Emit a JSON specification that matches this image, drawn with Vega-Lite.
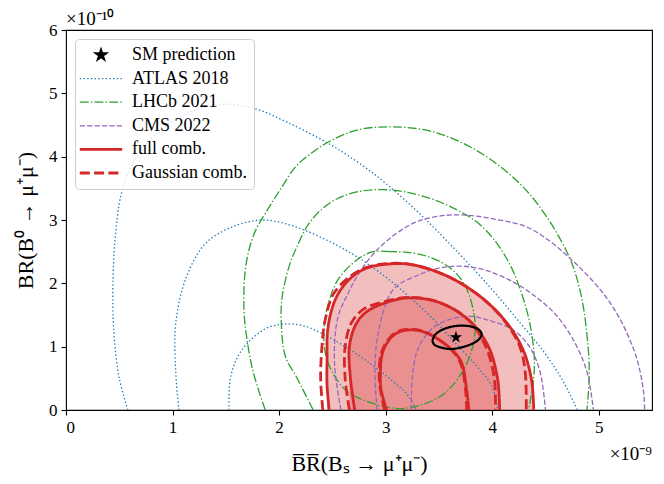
{
  "$schema": "https://vega.github.io/schema/vega-lite/v6.json",
  "width": 586,
  "height": 380,
  "autosize": {"type": "none"},
  "padding": {"left": 66, "top": 30, "right": 12, "bottom": 74},
  "background": "white",
  "config": {
    "view": {"stroke": "black", "strokeWidth": 1.1},
    "font": "Liberation Serif",
    "axis": {
      "grid": false, "domain": false, "tickColor": "black", "tickSize": 5, "tickWidth": 1.1,
      "labelFont": "Liberation Serif", "labelFontSize": 17, "labelColor": "black", "labelPadding": 4,
      "titleFont": "Liberation Serif", "titleFontSize": 22, "titleFontWeight": "normal", "titleColor": "black"
    },
    "legend": {"orient": "none", "legendX": 9, "legendY": 9, "fillColor": "rgba(255,255,255,0.8)", "strokeColor": "#cccccc", "cornerRadius": 4, "padding": 7, "labelFont": "Liberation Serif", "labelFontSize": 18, "labelColor": "black", "symbolType": "stroke", "symbolSize": 1800, "symbolOffset": 10, "rowPadding": 5.6, "labelOffset": 22, "labelLimit": 300}
  },
  "title": {"text": "×10⁻¹⁰", "anchor": "start", "frame": "group", "fontSize": 19, "fontWeight": "normal", "font": "Liberation Serif", "offset": -8, "color": "black"},
  "datasets": {
    "lines": [
      {"s":"ATLAS 2018","c":"e-a3","i":0,"x":0.58,"y":0},
      {"s":"ATLAS 2018","c":"e-a3","i":1,"x":0.5,"y":0.5},
      {"s":"ATLAS 2018","c":"e-a3","i":2,"x":0.45,"y":1.2},
      {"s":"ATLAS 2018","c":"e-a3","i":3,"x":0.44,"y":1.9},
      {"s":"ATLAS 2018","c":"e-a3","i":4,"x":0.46,"y":2.68},
      {"s":"ATLAS 2018","c":"e-a3","i":5,"x":0.52,"y":3.42},
      {"s":"ATLAS 2018","c":"e-a3","i":6,"x":0.63,"y":3.9},
      {"s":"ATLAS 2018","c":"e-a3","i":7,"x":0.82,"y":4.32},
      {"s":"ATLAS 2018","c":"e-a3","i":8,"x":1.07,"y":4.63},
      {"s":"ATLAS 2018","c":"e-a3","i":9,"x":1.3,"y":4.78},
      {"s":"ATLAS 2018","c":"e-a3","i":10,"x":1.5,"y":4.83},
      {"s":"ATLAS 2018","c":"e-a3","i":11,"x":1.79,"y":4.75},
      {"s":"ATLAS 2018","c":"e-a3","i":12,"x":2.08,"y":4.54},
      {"s":"ATLAS 2018","c":"e-a3","i":13,"x":2.45,"y":4.22},
      {"s":"ATLAS 2018","c":"e-a3","i":14,"x":2.75,"y":3.9},
      {"s":"ATLAS 2018","c":"e-a3","i":15,"x":3.0,"y":3.58},
      {"s":"ATLAS 2018","c":"e-a3","i":16,"x":3.35,"y":3.05},
      {"s":"ATLAS 2018","c":"e-a3","i":17,"x":3.7,"y":2.45},
      {"s":"ATLAS 2018","c":"e-a3","i":18,"x":4.0,"y":1.9},
      {"s":"ATLAS 2018","c":"e-a3","i":19,"x":4.25,"y":1.4},
      {"s":"ATLAS 2018","c":"e-a3","i":20,"x":4.47,"y":0.95},
      {"s":"ATLAS 2018","c":"e-a3","i":21,"x":4.65,"y":0.5},
      {"s":"ATLAS 2018","c":"e-a3","i":22,"x":4.8,"y":0},

      {"s":"ATLAS 2018","c":"e-a2","i":0,"x":1.06,"y":0},
      {"s":"ATLAS 2018","c":"e-a2","i":1,"x":1.03,"y":0.6},
      {"s":"ATLAS 2018","c":"e-a2","i":2,"x":1.03,"y":1.37},
      {"s":"ATLAS 2018","c":"e-a2","i":3,"x":1.13,"y":2.1},
      {"s":"ATLAS 2018","c":"e-a2","i":4,"x":1.31,"y":2.63},
      {"s":"ATLAS 2018","c":"e-a2","i":5,"x":1.56,"y":2.89},
      {"s":"ATLAS 2018","c":"e-a2","i":6,"x":1.85,"y":3.0},
      {"s":"ATLAS 2018","c":"e-a2","i":7,"x":2.14,"y":2.9},
      {"s":"ATLAS 2018","c":"e-a2","i":8,"x":2.45,"y":2.68},
      {"s":"ATLAS 2018","c":"e-a2","i":9,"x":2.72,"y":2.43},
      {"s":"ATLAS 2018","c":"e-a2","i":10,"x":3.0,"y":2.1},
      {"s":"ATLAS 2018","c":"e-a2","i":11,"x":3.2,"y":1.82},
      {"s":"ATLAS 2018","c":"e-a2","i":12,"x":3.45,"y":1.43},
      {"s":"ATLAS 2018","c":"e-a2","i":13,"x":3.63,"y":1.1},
      {"s":"ATLAS 2018","c":"e-a2","i":14,"x":3.85,"y":0.7},
      {"s":"ATLAS 2018","c":"e-a2","i":15,"x":4.0,"y":0.37},
      {"s":"ATLAS 2018","c":"e-a2","i":16,"x":4.05,"y":0},

      {"s":"ATLAS 2018","c":"e-a1","i":0,"x":1.53,"y":0},
      {"s":"ATLAS 2018","c":"e-a1","i":1,"x":1.54,"y":0.47},
      {"s":"ATLAS 2018","c":"e-a1","i":2,"x":1.6,"y":0.8},
      {"s":"ATLAS 2018","c":"e-a1","i":3,"x":1.7,"y":1.05},
      {"s":"ATLAS 2018","c":"e-a1","i":4,"x":1.88,"y":1.29},
      {"s":"ATLAS 2018","c":"e-a1","i":5,"x":2.07,"y":1.36},
      {"s":"ATLAS 2018","c":"e-a1","i":6,"x":2.25,"y":1.32},
      {"s":"ATLAS 2018","c":"e-a1","i":7,"x":2.41,"y":1.2},
      {"s":"ATLAS 2018","c":"e-a1","i":8,"x":2.6,"y":1.02},
      {"s":"ATLAS 2018","c":"e-a1","i":9,"x":2.8,"y":0.8},
      {"s":"ATLAS 2018","c":"e-a1","i":10,"x":3.07,"y":0.45},
      {"s":"ATLAS 2018","c":"e-a1","i":11,"x":3.2,"y":0.25},
      {"s":"ATLAS 2018","c":"e-a1","i":12,"x":3.29,"y":0},

      {"s":"LHCb 2021","c":"e-l3","i":0,"x":1.87,"y":0},
      {"s":"LHCb 2021","c":"e-l3","i":1,"x":1.76,"y":0.58},
      {"s":"LHCb 2021","c":"e-l3","i":2,"x":1.7,"y":1.1},
      {"s":"LHCb 2021","c":"e-l3","i":3,"x":1.67,"y":1.6},
      {"s":"LHCb 2021","c":"e-l3","i":4,"x":1.69,"y":2.3},
      {"s":"LHCb 2021","c":"e-l3","i":5,"x":1.77,"y":2.8},
      {"s":"LHCb 2021","c":"e-l3","i":6,"x":1.88,"y":3.13},
      {"s":"LHCb 2021","c":"e-l3","i":7,"x":2.0,"y":3.45},
      {"s":"LHCb 2021","c":"e-l3","i":8,"x":2.16,"y":3.85},
      {"s":"LHCb 2021","c":"e-l3","i":9,"x":2.3,"y":4.05},
      {"s":"LHCb 2021","c":"e-l3","i":10,"x":2.45,"y":4.22},
      {"s":"LHCb 2021","c":"e-l3","i":11,"x":2.73,"y":4.42},
      {"s":"LHCb 2021","c":"e-l3","i":12,"x":3.07,"y":4.47},
      {"s":"LHCb 2021","c":"e-l3","i":13,"x":3.45,"y":4.39},
      {"s":"LHCb 2021","c":"e-l3","i":14,"x":3.9,"y":4.05},
      {"s":"LHCb 2021","c":"e-l3","i":15,"x":4.34,"y":3.43},
      {"s":"LHCb 2021","c":"e-l3","i":16,"x":4.7,"y":2.5},
      {"s":"LHCb 2021","c":"e-l3","i":17,"x":4.83,"y":1.85},
      {"s":"LHCb 2021","c":"e-l3","i":18,"x":4.9,"y":1.0},
      {"s":"LHCb 2021","c":"e-l3","i":19,"x":4.91,"y":0.5},
      {"s":"LHCb 2021","c":"e-l3","i":20,"x":4.89,"y":0},

      {"s":"LHCb 2021","c":"e-l2","i":0,"x":2.32,"y":0},
      {"s":"LHCb 2021","c":"e-l2","i":1,"x":2.16,"y":0.53},
      {"s":"LHCb 2021","c":"e-l2","i":2,"x":2.06,"y":0.84},
      {"s":"LHCb 2021","c":"e-l2","i":3,"x":2.02,"y":1.4},
      {"s":"LHCb 2021","c":"e-l2","i":4,"x":2.03,"y":1.8},
      {"s":"LHCb 2021","c":"e-l2","i":5,"x":2.1,"y":2.3},
      {"s":"LHCb 2021","c":"e-l2","i":6,"x":2.16,"y":2.55},
      {"s":"LHCb 2021","c":"e-l2","i":7,"x":2.27,"y":2.92},
      {"s":"LHCb 2021","c":"e-l2","i":8,"x":2.4,"y":3.17},
      {"s":"LHCb 2021","c":"e-l2","i":9,"x":2.55,"y":3.34},
      {"s":"LHCb 2021","c":"e-l2","i":10,"x":2.75,"y":3.45},
      {"s":"LHCb 2021","c":"e-l2","i":11,"x":2.98,"y":3.48},
      {"s":"LHCb 2021","c":"e-l2","i":12,"x":3.25,"y":3.42},
      {"s":"LHCb 2021","c":"e-l2","i":13,"x":3.57,"y":3.24},
      {"s":"LHCb 2021","c":"e-l2","i":14,"x":3.89,"y":2.92},
      {"s":"LHCb 2021","c":"e-l2","i":15,"x":4.14,"y":2.38},
      {"s":"LHCb 2021","c":"e-l2","i":16,"x":4.32,"y":1.6},
      {"s":"LHCb 2021","c":"e-l2","i":17,"x":4.39,"y":0.95},
      {"s":"LHCb 2021","c":"e-l2","i":18,"x":4.39,"y":0.5},
      {"s":"LHCb 2021","c":"e-l2","i":19,"x":4.34,"y":0},

      {"s":"LHCb 2021","c":"e-l1","i":0,"x":3.04,"y":2.5},
      {"s":"LHCb 2021","c":"e-l1","i":1,"x":2.88,"y":2.5},
      {"s":"LHCb 2021","c":"e-l1","i":2,"x":2.73,"y":2.37},
      {"s":"LHCb 2021","c":"e-l1","i":3,"x":2.55,"y":2.05},
      {"s":"LHCb 2021","c":"e-l1","i":4,"x":2.45,"y":1.6},
      {"s":"LHCb 2021","c":"e-l1","i":5,"x":2.42,"y":1.2},
      {"s":"LHCb 2021","c":"e-l1","i":6,"x":2.45,"y":0.79},
      {"s":"LHCb 2021","c":"e-l1","i":7,"x":2.6,"y":0.35},
      {"s":"LHCb 2021","c":"e-l1","i":8,"x":2.76,"y":0.18},
      {"s":"LHCb 2021","c":"e-l1","i":9,"x":3.0,"y":0.05},
      {"s":"LHCb 2021","c":"e-l1","i":10,"x":3.2,"y":0.03},
      {"s":"LHCb 2021","c":"e-l1","i":11,"x":3.51,"y":0.21},
      {"s":"LHCb 2021","c":"e-l1","i":12,"x":3.68,"y":0.5},
      {"s":"LHCb 2021","c":"e-l1","i":13,"x":3.8,"y":0.9},
      {"s":"LHCb 2021","c":"e-l1","i":14,"x":3.84,"y":1.35},
      {"s":"LHCb 2021","c":"e-l1","i":15,"x":3.75,"y":1.95},
      {"s":"LHCb 2021","c":"e-l1","i":16,"x":3.6,"y":2.25},
      {"s":"LHCb 2021","c":"e-l1","i":17,"x":3.4,"y":2.42},
      {"s":"LHCb 2021","c":"e-l1","i":18,"x":3.2,"y":2.49},
      {"s":"LHCb 2021","c":"e-l1","i":19,"x":3.04,"y":2.5},

      {"s":"CMS 2022","c":"e-c3","i":0,"x":2.58,"y":0},
      {"s":"CMS 2022","c":"e-c3","i":1,"x":2.52,"y":0.74},
      {"s":"CMS 2022","c":"e-c3","i":2,"x":2.55,"y":1.45},
      {"s":"CMS 2022","c":"e-c3","i":3,"x":2.65,"y":1.85},
      {"s":"CMS 2022","c":"e-c3","i":4,"x":2.75,"y":2.16},
      {"s":"CMS 2022","c":"e-c3","i":5,"x":2.95,"y":2.58},
      {"s":"CMS 2022","c":"e-c3","i":6,"x":3.26,"y":2.95},
      {"s":"CMS 2022","c":"e-c3","i":7,"x":3.5,"y":3.06},
      {"s":"CMS 2022","c":"e-c3","i":8,"x":3.72,"y":3.08},
      {"s":"CMS 2022","c":"e-c3","i":9,"x":4.0,"y":3.02},
      {"s":"CMS 2022","c":"e-c3","i":10,"x":4.35,"y":2.87},
      {"s":"CMS 2022","c":"e-c3","i":11,"x":4.76,"y":2.35},
      {"s":"CMS 2022","c":"e-c3","i":12,"x":5.12,"y":1.66},
      {"s":"CMS 2022","c":"e-c3","i":13,"x":5.34,"y":0.9},
      {"s":"CMS 2022","c":"e-c3","i":14,"x":5.42,"y":0.3},
      {"s":"CMS 2022","c":"e-c3","i":15,"x":5.43,"y":0},

      {"s":"CMS 2022","c":"e-c2","i":0,"x":2.92,"y":0},
      {"s":"CMS 2022","c":"e-c2","i":1,"x":2.9,"y":0.6},
      {"s":"CMS 2022","c":"e-c2","i":2,"x":2.93,"y":1.21},
      {"s":"CMS 2022","c":"e-c2","i":3,"x":3.07,"y":1.9},
      {"s":"CMS 2022","c":"e-c2","i":4,"x":3.29,"y":2.12},
      {"s":"CMS 2022","c":"e-c2","i":5,"x":3.5,"y":2.24},
      {"s":"CMS 2022","c":"e-c2","i":6,"x":3.73,"y":2.27},
      {"s":"CMS 2022","c":"e-c2","i":7,"x":3.95,"y":2.2},
      {"s":"CMS 2022","c":"e-c2","i":8,"x":4.2,"y":2.02},
      {"s":"CMS 2022","c":"e-c2","i":9,"x":4.4,"y":1.8},
      {"s":"CMS 2022","c":"e-c2","i":10,"x":4.6,"y":1.5},
      {"s":"CMS 2022","c":"e-c2","i":11,"x":4.78,"y":1.05},
      {"s":"CMS 2022","c":"e-c2","i":12,"x":4.89,"y":0.6},
      {"s":"CMS 2022","c":"e-c2","i":13,"x":4.95,"y":0},

      {"s":"CMS 2022","c":"e-c1","i":0,"x":3.24,"y":0},
      {"s":"CMS 2022","c":"e-c1","i":1,"x":3.25,"y":0.5},
      {"s":"CMS 2022","c":"e-c1","i":2,"x":3.3,"y":0.95},
      {"s":"CMS 2022","c":"e-c1","i":3,"x":3.42,"y":1.26},
      {"s":"CMS 2022","c":"e-c1","i":4,"x":3.55,"y":1.4},
      {"s":"CMS 2022","c":"e-c1","i":5,"x":3.78,"y":1.48},
      {"s":"CMS 2022","c":"e-c1","i":6,"x":4.0,"y":1.4},
      {"s":"CMS 2022","c":"e-c1","i":7,"x":4.2,"y":1.26},
      {"s":"CMS 2022","c":"e-c1","i":8,"x":4.35,"y":1.0},
      {"s":"CMS 2022","c":"e-c1","i":9,"x":4.45,"y":0.6},
      {"s":"CMS 2022","c":"e-c1","i":10,"x":4.5,"y":0},

      {"s":"Gaussian comb.","c":"g-3","i":0,"x":2.41,"y":0},
      {"s":"Gaussian comb.","c":"g-3","i":1,"x":2.39,"y":0.5},
      {"s":"Gaussian comb.","c":"g-3","i":2,"x":2.4,"y":0.95},
      {"s":"Gaussian comb.","c":"g-3","i":3,"x":2.43,"y":1.4},
      {"s":"Gaussian comb.","c":"g-3","i":4,"x":2.51,"y":1.83},
      {"s":"Gaussian comb.","c":"g-3","i":5,"x":2.66,"y":2.1},
      {"s":"Gaussian comb.","c":"g-3","i":6,"x":2.82,"y":2.25},
      {"s":"Gaussian comb.","c":"g-3","i":7,"x":3.0,"y":2.31},
      {"s":"Gaussian comb.","c":"g-3","i":8,"x":3.23,"y":2.3},
      {"s":"Gaussian comb.","c":"g-3","i":9,"x":3.57,"y":2.12},
      {"s":"Gaussian comb.","c":"g-3","i":10,"x":3.89,"y":1.79},
      {"s":"Gaussian comb.","c":"g-3","i":11,"x":4.12,"y":1.4},
      {"s":"Gaussian comb.","c":"g-3","i":12,"x":4.26,"y":1.0},
      {"s":"Gaussian comb.","c":"g-3","i":13,"x":4.31,"y":0.6},
      {"s":"Gaussian comb.","c":"g-3","i":14,"x":4.32,"y":0},

      {"s":"Gaussian comb.","c":"g-2","i":0,"x":2.66,"y":0},
      {"s":"Gaussian comb.","c":"g-2","i":1,"x":2.62,"y":0.5},
      {"s":"Gaussian comb.","c":"g-2","i":2,"x":2.62,"y":1.0},
      {"s":"Gaussian comb.","c":"g-2","i":3,"x":2.68,"y":1.38},
      {"s":"Gaussian comb.","c":"g-2","i":4,"x":2.8,"y":1.6},
      {"s":"Gaussian comb.","c":"g-2","i":5,"x":3.01,"y":1.72},
      {"s":"Gaussian comb.","c":"g-2","i":6,"x":3.22,"y":1.78},
      {"s":"Gaussian comb.","c":"g-2","i":7,"x":3.5,"y":1.7},
      {"s":"Gaussian comb.","c":"g-2","i":8,"x":3.78,"y":1.42},
      {"s":"Gaussian comb.","c":"g-2","i":9,"x":3.94,"y":1.0},
      {"s":"Gaussian comb.","c":"g-2","i":10,"x":4.02,"y":0.5},
      {"s":"Gaussian comb.","c":"g-2","i":11,"x":4.03,"y":0},

      {"s":"Gaussian comb.","c":"g-1","i":0,"x":2.99,"y":0},
      {"s":"Gaussian comb.","c":"g-1","i":1,"x":2.94,"y":0.5},
      {"s":"Gaussian comb.","c":"g-1","i":2,"x":2.97,"y":0.95},
      {"s":"Gaussian comb.","c":"g-1","i":3,"x":3.09,"y":1.22},
      {"s":"Gaussian comb.","c":"g-1","i":4,"x":3.29,"y":1.27},
      {"s":"Gaussian comb.","c":"g-1","i":5,"x":3.51,"y":1.1},
      {"s":"Gaussian comb.","c":"g-1","i":6,"x":3.69,"y":0.79},
      {"s":"Gaussian comb.","c":"g-1","i":7,"x":3.75,"y":0.32},
      {"s":"Gaussian comb.","c":"g-1","i":8,"x":3.76,"y":0},

      {"s":"full comb.","c":"h-3","i":0,"x":2.47,"y":0},
      {"s":"full comb.","c":"h-3","i":1,"x":2.45,"y":0.4},
      {"s":"full comb.","c":"h-3","i":2,"x":2.45,"y":0.79},
      {"s":"full comb.","c":"h-3","i":3,"x":2.46,"y":1.32},
      {"s":"full comb.","c":"h-3","i":4,"x":2.54,"y":1.79},
      {"s":"full comb.","c":"h-3","i":5,"x":2.67,"y":2.08},
      {"s":"full comb.","c":"h-3","i":6,"x":2.82,"y":2.24},
      {"s":"full comb.","c":"h-3","i":7,"x":3.0,"y":2.3},
      {"s":"full comb.","c":"h-3","i":8,"x":3.23,"y":2.3},
      {"s":"full comb.","c":"h-3","i":9,"x":3.57,"y":2.12},
      {"s":"full comb.","c":"h-3","i":10,"x":3.89,"y":1.79},
      {"s":"full comb.","c":"h-3","i":11,"x":4.14,"y":1.37},
      {"s":"full comb.","c":"h-3","i":12,"x":4.29,"y":0.95},
      {"s":"full comb.","c":"h-3","i":13,"x":4.37,"y":0.47},
      {"s":"full comb.","c":"h-3","i":14,"x":4.39,"y":0},

      {"s":"full comb.","c":"h-2","i":0,"x":2.71,"y":0},
      {"s":"full comb.","c":"h-2","i":1,"x":2.67,"y":0.5},
      {"s":"full comb.","c":"h-2","i":2,"x":2.66,"y":1.0},
      {"s":"full comb.","c":"h-2","i":3,"x":2.72,"y":1.35},
      {"s":"full comb.","c":"h-2","i":4,"x":2.82,"y":1.55},
      {"s":"full comb.","c":"h-2","i":5,"x":3.01,"y":1.7},
      {"s":"full comb.","c":"h-2","i":6,"x":3.22,"y":1.77},
      {"s":"full comb.","c":"h-2","i":7,"x":3.5,"y":1.7},
      {"s":"full comb.","c":"h-2","i":8,"x":3.78,"y":1.42},
      {"s":"full comb.","c":"h-2","i":9,"x":3.96,"y":1.02},
      {"s":"full comb.","c":"h-2","i":10,"x":4.05,"y":0.5},
      {"s":"full comb.","c":"h-2","i":11,"x":4.07,"y":0},

      {"s":"full comb.","c":"h-1","i":0,"x":3.01,"y":0},
      {"s":"full comb.","c":"h-1","i":1,"x":2.96,"y":0.3},
      {"s":"full comb.","c":"h-1","i":2,"x":2.95,"y":0.53},
      {"s":"full comb.","c":"h-1","i":3,"x":2.98,"y":0.95},
      {"s":"full comb.","c":"h-1","i":4,"x":3.1,"y":1.21},
      {"s":"full comb.","c":"h-1","i":5,"x":3.29,"y":1.26},
      {"s":"full comb.","c":"h-1","i":6,"x":3.51,"y":1.1},
      {"s":"full comb.","c":"h-1","i":7,"x":3.7,"y":0.79},
      {"s":"full comb.","c":"h-1","i":8,"x":3.76,"y":0.32},
      {"s":"full comb.","c":"h-1","i":9,"x":3.78,"y":0},

      {"s":"SM prediction","c":"s-1","i":0,"x":3.438,"y":1.095},
      {"s":"SM prediction","c":"s-1","i":1,"x":3.463,"y":1.184},
      {"s":"SM prediction","c":"s-1","i":2,"x":3.526,"y":1.263},
      {"s":"SM prediction","c":"s-1","i":3,"x":3.62,"y":1.316},
      {"s":"SM prediction","c":"s-1","i":4,"x":3.713,"y":1.332},
      {"s":"SM prediction","c":"s-1","i":5,"x":3.807,"y":1.316},
      {"s":"SM prediction","c":"s-1","i":6,"x":3.879,"y":1.263},
      {"s":"SM prediction","c":"s-1","i":7,"x":3.901,"y":1.195},
      {"s":"SM prediction","c":"s-1","i":8,"x":3.876,"y":1.116},
      {"s":"SM prediction","c":"s-1","i":9,"x":3.807,"y":1.042},
      {"s":"SM prediction","c":"s-1","i":10,"x":3.713,"y":0.99},
      {"s":"SM prediction","c":"s-1","i":11,"x":3.62,"y":0.963},
      {"s":"SM prediction","c":"s-1","i":12,"x":3.526,"y":0.984},
      {"s":"SM prediction","c":"s-1","i":13,"x":3.457,"y":1.032},
      {"s":"SM prediction","c":"s-1","i":14,"x":3.438,"y":1.095}
    ],
    "fills": [
      {"c":"f3","x":2.45,"y":0.79},
      {"c":"f3","x":2.46,"y":1.32},
      {"c":"f3","x":2.54,"y":1.79},
      {"c":"f3","x":2.67,"y":2.08},
      {"c":"f3","x":2.82,"y":2.24},
      {"c":"f3","x":3.0,"y":2.3},
      {"c":"f3","x":3.23,"y":2.3},
      {"c":"f3","x":3.57,"y":2.12},
      {"c":"f3","x":3.89,"y":1.79},
      {"c":"f3","x":4.14,"y":1.37},
      {"c":"f3","x":4.29,"y":0.95},
      {"c":"f3","x":4.37,"y":0.47},
      {"c":"f3","x":4.39,"y":0},
      {"c":"f2","x":2.66,"y":1.0},
      {"c":"f2","x":2.72,"y":1.35},
      {"c":"f2","x":2.82,"y":1.55},
      {"c":"f2","x":3.01,"y":1.7},
      {"c":"f2","x":3.22,"y":1.77},
      {"c":"f2","x":3.5,"y":1.7},
      {"c":"f2","x":3.78,"y":1.42},
      {"c":"f2","x":3.96,"y":1.02},
      {"c":"f2","x":4.05,"y":0.5},
      {"c":"f2","x":4.07,"y":0}
    ],
    "star": [{"x": 3.66, "y": 1.148, "t": "×10⁻⁹"}]
  },
  "layer": [
    {
      "data": {"name": "fills"},
      "mark": {"type": "area", "interpolate": "monotone", "color": "#d62728", "opacity": 0.3},
      "encoding": {
        "x": {"field": "x", "type": "quantitative", "scale": {"domain": [0, 5.5], "nice": false, "zero": false}, "axis": {"title": "B̅R̅(Bₛ → μ⁺μ⁻)", "values": [0,1,2,3,4,5], "format": "d", "titlePadding": 18}},
        "y": {"field": "y", "type": "quantitative", "stack": null, "scale": {"domain": [0, 6], "nice": false, "zero": false}, "axis": {"title": "BR(B⁰ → μ⁺μ⁻)", "values": [0,1,2,3,4,5,6], "format": "d", "titlePadding": 11}},
        "detail": {"field": "c", "type": "nominal"}
      }
    },
    {
      "data": {"name": "lines"},
      "mark": {"type": "line", "interpolate": "catmull-rom", "clip": true},
      "encoding": {
        "x": {"field": "x", "type": "quantitative"},
        "y": {"field": "y", "type": "quantitative"},
        "detail": {"field": "c", "type": "nominal"},
        "order": {"field": "i", "type": "quantitative"},
        "strokeWidth": {"condition": [{"test": "datum.s === 'full comb.' || datum.s === 'Gaussian comb.'", "value": 2.8}, {"test": "datum.s === 'SM prediction'", "value": 2.2}], "value": 1.3},
        "color": {"field": "s", "type": "nominal", "scale": {"domain": ["SM prediction","ATLAS 2018","LHCb 2021","CMS 2022","full comb.","Gaussian comb."], "range": ["black","#1f77b4","#2ca02c","#9467bd","#d62728","#d62728"]},
          "legend": {"title": null, "encode": {"symbols": {"update": {
            "shape": {"signal": "datum.value === 'SM prediction' ? 'M0,-1L0.2245,-0.309L0.9511,-0.309L0.3633,0.118L0.5878,0.809L0,0.382L-0.5878,0.809L-0.3633,0.118L-0.9511,-0.309L-0.2245,-0.309Z' : 'stroke'"},
            "size": {"signal": "datum.value === 'SM prediction' ? 170 : 1800"},
            "fill": {"signal": "datum.value === 'SM prediction' ? 'black' : 'transparent'"},
            "stroke": {"signal": "datum.value === 'SM prediction' ? 'transparent' : datum.value === 'ATLAS 2018' ? '#1f77b4' : datum.value === 'LHCb 2021' ? '#2ca02c' : datum.value === 'CMS 2022' ? '#9467bd' : '#d62728'"},
            "strokeWidth": {"signal": "datum.value === 'full comb.' || datum.value === 'Gaussian comb.' ? 2.8 : 1.3"}
          }}}}},
        "strokeDash": {"field": "s", "type": "nominal", "scale": {"domain": ["SM prediction","ATLAS 2018","LHCb 2021","CMS 2022","full comb.","Gaussian comb."], "range": [[1,0],[1.4,2.3],[8.9,2.2,1.4,2.2],[5.2,2.2],[1,0],[10,4.3]]},
          "legend": {"title": null, "encode": {"symbols": {"update": {
            "shape": {"signal": "datum.value === 'SM prediction' ? 'M0,-1L0.2245,-0.309L0.9511,-0.309L0.3633,0.118L0.5878,0.809L0,0.382L-0.5878,0.809L-0.3633,0.118L-0.9511,-0.309L-0.2245,-0.309Z' : 'stroke'"},
            "size": {"signal": "datum.value === 'SM prediction' ? 170 : 1800"},
            "fill": {"signal": "datum.value === 'SM prediction' ? 'black' : 'transparent'"},
            "stroke": {"signal": "datum.value === 'SM prediction' ? 'transparent' : datum.value === 'ATLAS 2018' ? '#1f77b4' : datum.value === 'LHCb 2021' ? '#2ca02c' : datum.value === 'CMS 2022' ? '#9467bd' : '#d62728'"},
            "strokeWidth": {"signal": "datum.value === 'full comb.' || datum.value === 'Gaussian comb.' ? 2.8 : 1.3"}
          }}}}}
      }
    },
    {
      "data": {"name": "star"},
      "mark": {"type": "point", "shape": "M0,-1L0.2245,-0.309L0.9511,-0.309L0.3633,0.118L0.5878,0.809L0,0.382L-0.5878,0.809L-0.3633,0.118L-0.9511,-0.309L-0.2245,-0.309Z", "filled": true, "color": "black", "size": 170, "opacity": 1},
      "encoding": {
        "x": {"field": "x", "type": "quantitative"},
        "y": {"field": "y", "type": "quantitative"}
      }
    },
    {
      "data": {"name": "star"},
      "mark": {"type": "text", "align": "right", "baseline": "top", "dy": 35, "fontSize": 19, "font": "Liberation Serif", "color": "black"},
      "encoding": {
        "x": {"datum": 5.5, "type": "quantitative"},
        "y": {"datum": 0, "type": "quantitative"},
        "text": {"field": "t"}
      }
    }
  ]
}
